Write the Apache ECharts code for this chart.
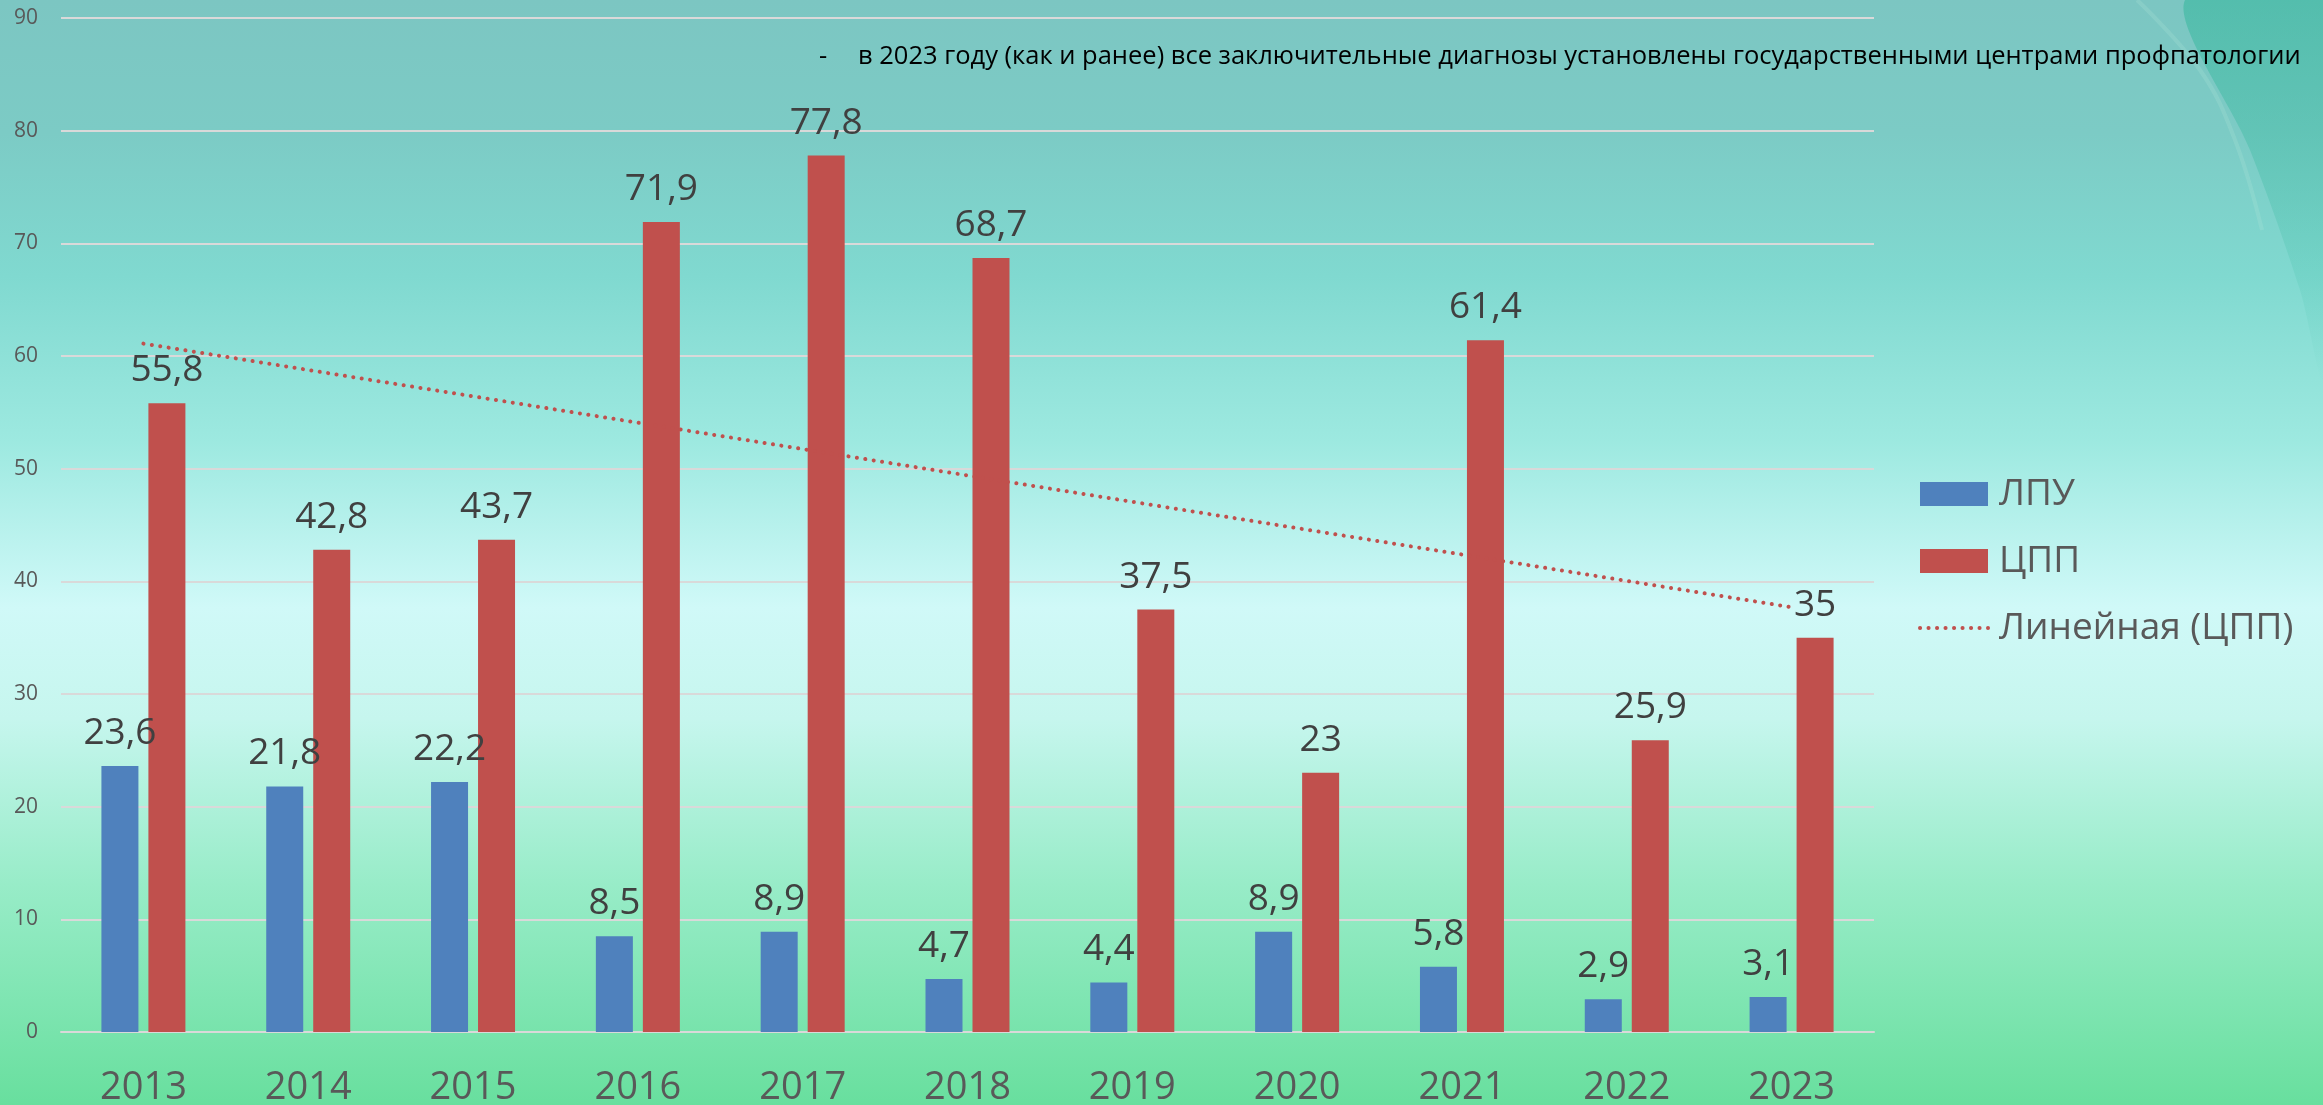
<!DOCTYPE html>
<html>
<head>
    <meta charset="utf-8">
    <title>ECharts</title>
    <script src="https://cdn.jsdelivr.net/npm/echarts@6/dist/echarts.min.js"></script>
    <style>
        html, body { margin: 0; padding: 0; }
    </style>
</head>
<body>
<div id="main" style="width: 2323px;height:1105px;"></div>
<script type="text/javascript">
    // данные
    var years = ['2013', '2014', '2015', '2016', '2017', '2018', '2019', '2020', '2021', '2022', '2023'];
    var lpu = [23.6, 21.8, 22.2, 8.5, 8.9, 4.7, 4.4, 8.9, 5.8, 2.9, 3.1];
    var cpp = [55.8, 42.8, 43.7, 71.9, 77.8, 68.7, 37.5, 23, 61.4, 25.9, 35];
    // концы линии тренда
    var trendStart = 61.1;
    var trendEnd = 37.7;
    var yTicks = [0, 10, 20, 30, 40, 50, 60, 70, 80, 90];
    var note = 'в 2023 году (как и ранее) все заключительные диагнозы установлены государственными центрами профпатологии';

    var trend = [];
    for (var i = 0; i < years.length; i++) {
        if (i == 0) trend.push(trendStart);
        else if (i == years.length - 1) trend.push(trendEnd);
        else trend.push('-');
    }

    function fmt(p) {
        return String(p.value).replace('.', ',');
    }

    var myChart = echarts.init(document.getElementById('main'));

    var labelStyle = {
        show: true,
        position: 'top',
        distance: 14,
        fontFamily: 'Open Sans',
        fontSize: 37,
        color: '#404040',
        formatter: fmt
    };

    var swooshFill = {
        type: 'linear', x: 0, y: 0, x2: 0, y2: 1,
        colorStops: [
            {offset: 0, color: 'rgba(40,180,150,0.5)'},
            {offset: 1, color: 'rgba(40,180,150,0)'}
        ]
    };

    var option = {
        backgroundColor: {
            type: 'linear', x: 0, y: 0, x2: 0, y2: 1,
            colorStops: [
                {offset: 0, color: '#7cc6c2'},
                {offset: 0.12, color: '#7ccbc5'},
                {offset: 0.25, color: '#80d9d0'},
                {offset: 0.4, color: '#9de9e0'},
                {offset: 0.55, color: '#d0f9f8'},
                {offset: 0.65, color: '#c6f6ee'},
                {offset: 0.8, color: '#98ecc8'},
                {offset: 1, color: '#68df9e'}
            ]
        },
        textStyle: {fontFamily: 'Open Sans'},
        graphic: [
            {
                type: 'polygon', silent: true, z: 0,
                shape: {points: [[2185, 0], [2323, 0], [2323, 380], [2300, 290], [2250, 150]], smooth: 0.3},
                style: {fill: swooshFill}
            },
            {
                type: 'polyline', silent: true, z: 0,
                shape: {points: [[2137, 0], [2200, 70], [2235, 140], [2262, 230]], smooth: 0.4},
                style: {stroke: 'rgba(180,230,220,0.22)', lineWidth: 4, fill: null}
            },
            {
                type: 'text', left: 819, top: 44,
                style: {text: '-', fontFamily: 'Open Sans', fontSize: 25.5, fill: '#000'}
            },
            {
                type: 'text', left: 858, top: 44,
                style: {text: note, fontFamily: 'Open Sans', fontSize: 25.5, fill: '#000'}
            }
        ],
        legend: {
            orient: 'vertical',
            left: 1913,
            top: 467,
            itemWidth: 68,
            itemHeight: 24,
            itemGap: 23,
            textStyle: {
                fontFamily: 'Open Sans',
                fontSize: 37,
                color: '#595959',
                lineHeight: 44,
                padding: [0, 0, 0, 6]
            },
            data: [
                {name: 'ЛПУ', icon: 'rect'},
                {name: 'ЦПП', icon: 'rect'},
                {name: 'Линейная (ЦПП)', itemStyle: {opacity: 0}, lineStyle: {width: 4}}
            ]
        },
        grid: {
            left: 61,
            right: 449,
            top: 18,
            bottom: 73,
            outerBoundsMode: 'none'
        },
        xAxis: {
            type: 'category',
            data: years,
            axisLine: {show: true, lineStyle: {color: '#d9d9d9', width: 2}},
            axisTick: {show: false},
            axisLabel: {
                fontFamily: 'Open Sans',
                fontSize: 38,
                color: '#595959',
                margin: 37
            }
        },
        yAxis: {
            type: 'value',
            min: yTicks[0],
            max: yTicks[yTicks.length - 1],
            interval: 10,
            axisLine: {show: false},
            axisTick: {show: false},
            splitLine: {lineStyle: {color: '#d9d9d9', width: 2}},
            axisLabel: {
                fontFamily: 'Open Sans',
                fontSize: 21,
                color: '#595959',
                margin: 23
            }
        },
        series: [
            {
                name: 'ЛПУ',
                type: 'bar',
                data: lpu,
                barWidth: 37,
                barGap: '27%',
                itemStyle: {color: '#4f81bd'},
                label: labelStyle
            },
            {
                name: 'ЦПП',
                type: 'bar',
                data: cpp,
                barWidth: 37,
                itemStyle: {color: '#c0504d'},
                label: labelStyle
            },
            {
                name: 'Линейная (ЦПП)',
                type: 'line',
                data: trend,
                connectNulls: true,
                symbol: 'none',
                silent: true,
                z: 5,
                itemStyle: {color: '#c0504d'},
                lineStyle: {
                    color: '#c0504d',
                    width: 4,
                    type: [0.1, 8.4],
                    cap: 'round'
                }
            }
        ]
    };

    myChart.setOption(option);
</script>
</body>
</html>
